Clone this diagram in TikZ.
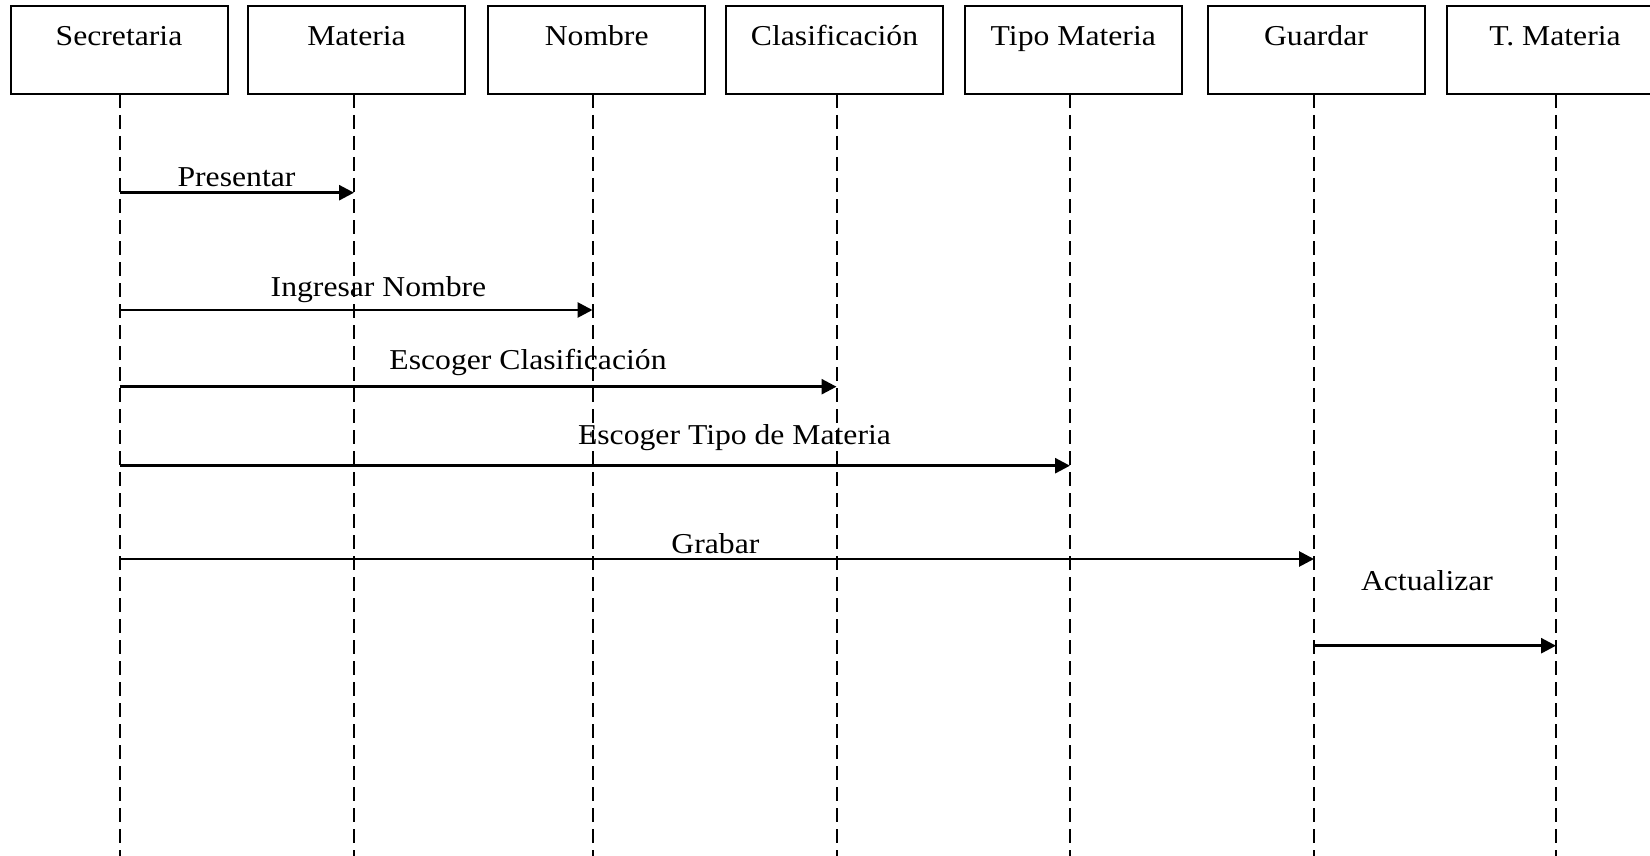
\documentclass[tikz,border=0pt]{standalone}
\usepackage{fontspec}
\setmainfont{Liberation Serif}
\usetikzlibrary{arrows.meta}
% slightly widened serif text
\newcommand\widetext[1]{\scalebox{1.1}[1]{#1}}
\tikzset{
  actor/.style={draw, line width=2pt, minimum width=217pt, minimum height=88pt,
    inner sep=0pt, text height=20pt, text depth=28pt,
    font=\fontsize{28.8}{34}\selectfont},
  lifeline/.style={line width=2pt, dash pattern=on 14pt off 7pt},
  msg/.style={line width=2.8pt, -{Triangle[length=15pt,width=15pt]}},
  msglabel/.style={anchor=base, inner sep=0pt, font=\fontsize{28.8}{34}\selectfont},
}
\begin{document}
\begin{tikzpicture}[x=1pt, y=-1pt]
\useasboundingbox (0,0) rectangle (1650,856);

% participants
\node[actor] (sec) at (119,50)    {\widetext{Secretaria}};
\node[actor] (mat) at (356.5,50)  {\widetext{Materia}};
\node[actor] (nom) at (596.7,50)  {\widetext{Nombre}};
\node[actor] (cla) at (834.5,50)  {\widetext{Clasificación}};
\node[actor] (tip) at (1073.3,50) {\widetext{Tipo Materia}};
\node[actor] (gua) at (1316,50)   {\widetext{Guardar}};
\node[actor] (tma) at (1555,50)   {\widetext{T. Materia}};

% lifeline ends
\coordinate (sec-t) at (119.5,94);  \coordinate (sec-b) at (119.5,856);
\coordinate (mat-t) at (354,94);    \coordinate (mat-b) at (354,856);
\coordinate (nom-t) at (592.5,94);  \coordinate (nom-b) at (592.5,856);
\coordinate (cla-t) at (836.5,94);  \coordinate (cla-b) at (836.5,856);
\coordinate (tip-t) at (1070,94);   \coordinate (tip-b) at (1070,856);
\coordinate (gua-t) at (1314,94);   \coordinate (gua-b) at (1314,856);
\coordinate (tma-t) at (1556,94);   \coordinate (tma-b) at (1556,856);

\foreach \p in {sec,mat,nom,cla,tip,gua,tma}
  \draw[lifeline] (\p-t) -- (\p-b);

% message rows
\coordinate (r1) at (0,192.7);
\coordinate (r2) at (0,310);
\coordinate (r3) at (0,386.7);
\coordinate (r4) at (0,465.7);
\coordinate (r5) at (0,559);
\coordinate (r6) at (0,645.7);

\draw[msg] (sec-t |- r1) -- (mat-t |- r1);
\draw[msg] (sec-t |- r2) -- (nom-t |- r2);
\draw[msg] (sec-t |- r3) -- (cla-t |- r3);
\draw[msg] (sec-t |- r4) -- (tip-t |- r4);
\draw[msg] (sec-t |- r5) -- (gua-t |- r5);
\draw[msg] (gua-t |- r6) -- (tma-t |- r6);

% message labels
\node[msglabel] (l1) at (236.5,186)  {\widetext{Presentar}};
\node[msglabel] (l2) at (378.5,296)  {\widetext{Ingresar Nombre}};
\node[msglabel] (l3) at (528,369)    {\widetext{Escoger Clasificación}};
\node[msglabel] (l4) at (734.5,444)  {\widetext{Escoger Tipo de Materia}};
\node[msglabel] (l5) at (715.4,553)  {\widetext{Grabar}};
\node[msglabel] (l6) at (1427,590.7) {\widetext{Actualizar}};
\end{tikzpicture}
\end{document}
